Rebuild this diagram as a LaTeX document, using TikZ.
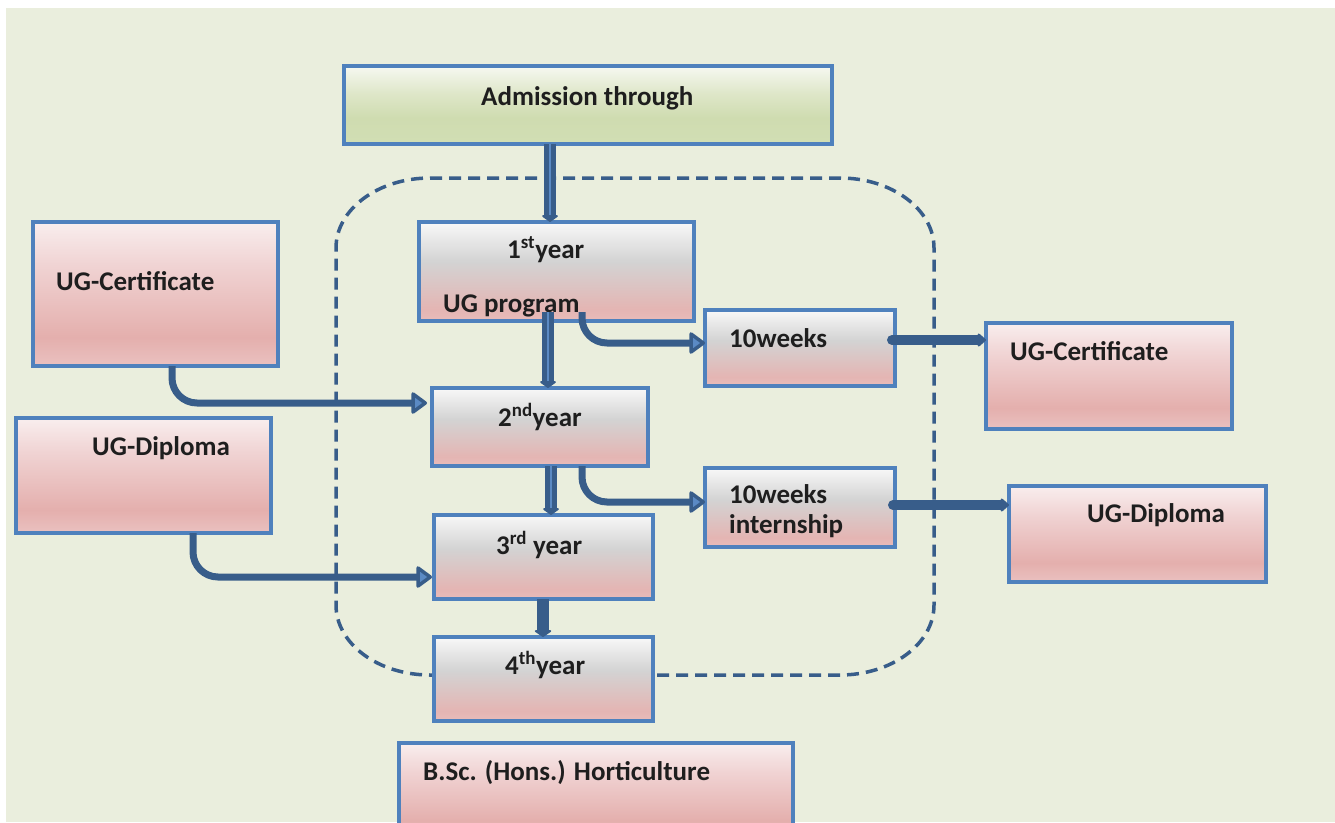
\documentclass[tikz,border=0pt]{standalone}
\usepackage{fontspec}
\setmainfont{Carlito}
\usetikzlibrary{arrows.meta}
\definecolor{bgc}{HTML}{EAEEDD}
\definecolor{bordblue}{HTML}{4F81BD}
\definecolor{arrdark}{HTML}{385D8A}
\definecolor{arrlight}{HTML}{5B8AC4}
\definecolor{txtc}{HTML}{1E1E1E}
\definecolor{pkB}{HTML}{EAC1C0}
\definecolor{pkD}{HTML}{E4AFAD}
\definecolor{pkM}{HTML}{F0D3D3}
\definecolor{pkT}{HTML}{F9EEEE}
\definecolor{yrB}{HTML}{E8BCBA}
\definecolor{yrD}{HTML}{E4B5B3}
\definecolor{yrM}{HTML}{D3D3D3}
\definecolor{yrT}{HTML}{F8F8F8}
\definecolor{grB}{HTML}{D1DEB4}
\definecolor{grD}{HTML}{CFDCB0}
\definecolor{grM}{HTML}{DFE7CA}
\definecolor{grT}{HTML}{F6F8F1}
\pgfdeclareverticalshading{pinkshade}{100bp}{color(0bp)=(pkB); color(25bp)=(pkB); color(35bp)=(pkD); color(60bp)=(pkM); color(75bp)=(pkT); color(100bp)=(pkT)}
\pgfdeclareverticalshading{yearshade}{100bp}{color(0bp)=(yrB); color(25bp)=(yrB); color(31bp)=(yrD); color(55bp)=(yrM); color(75bp)=(yrT); color(100bp)=(yrT)}
\pgfdeclareverticalshading{greenshade}{100bp}{color(0bp)=(grB); color(25bp)=(grB); color(42bp)=(grD); color(58bp)=(grM); color(75bp)=(grT); color(100bp)=(grT)}
\tikzset{
  box/.style={draw=bordblue, line width=4, inner sep=0, outer sep=0},
  pinkbox/.style={box, shading=pinkshade},
  yearbox/.style={box, shading=yearshade},
  greenbox/.style={box, shading=greenshade},
  txt/.style={anchor=base west, inner sep=0, text=txtc, font=\fontsize{27}{32}\selectfont\bfseries},
  dashbox/.style={draw=arrdark, line width=3.5, dash pattern=on 12 off 7},
  dbl/.style={draw=arrdark, line width=5, double=arrlight, double distance=2.5, -{Triangle[width=19,length=7,round]}},
  solidarr/.style={draw=arrdark, line width=12, -{Triangle[width=20,length=7,round]}},
  curv/.style={draw=arrdark, line width=7, rounded corners=25, -{Triangle[width=24,length=17,fill=arrlight,line width=3.5,round]}},
  thk/.style={draw=arrdark, line width=10, line cap=round, -{Triangle[width=15,length=9,round]}}
}
\begin{document}
\begin{tikzpicture}[x=1pt,y=1pt]
\path[use as bounding box] (0,0) rectangle (1335,-822);
\clip (0,0) rectangle (1335,-822);
\fill[white] (0,0) rectangle (1335,-822);
\fill[bgc] (6,-8) rectangle (1335,-822);
% dashed enclosure
\draw[dashbox] (430,-178) -- (840,-178)
  arc[start angle=90,end angle=0,x radius=94,y radius=70] -- (934,-605)
  arc[start angle=0,end angle=-90,x radius=94,y radius=70] -- (430,-675)
  arc[start angle=270,end angle=180,x radius=94,y radius=70] -- (336,-248)
  arc[start angle=180,end angle=90,x radius=94,y radius=70] -- cycle;
% boxes
\node[greenbox, minimum width=488, minimum height=78] (adm) at (588,-105) {};
\node[yearbox, minimum width=275, minimum height=99] (y1) at (556.5,-271.5) {};
\node[pinkbox, minimum width=245, minimum height=144] (ugcL) at (155.5,-294) {};
\node[yearbox, minimum width=190, minimum height=76] (w10) at (800,-348) {};
\node[pinkbox, minimum width=246, minimum height=106] (ugcR) at (1109,-376) {};
\node[yearbox, minimum width=216, minimum height=78] (y2) at (540,-427) {};
\node[pinkbox, minimum width=255, minimum height=115] (ugdL) at (143.5,-475.5) {};
\node[yearbox, minimum width=190, minimum height=79] (w10i) at (800,-507.5) {};
\node[pinkbox, minimum width=257, minimum height=96] (ugdR) at (1137.5,-534) {};
\node[yearbox, minimum width=219, minimum height=84] (y3) at (543.5,-557) {};
\node[yearbox, minimum width=219, minimum height=84] (y4) at (543.5,-679) {};
\node[pinkbox, minimum width=394, minimum height=97] (bsc) at (596,-791.5) {};
% texts
\node[txt] (tadm) at (481,-105) {Admission through};
\node[txt] (ty1a) at (507,-258) {1\textsuperscript{st}year};
\node[txt] (ty1b) at (443,-312) {UG program};
\node[txt] (tugcL) at (56,-290) {UG-Certificate};
\node[txt] (tw10) at (729,-347) {10weeks};
\node[txt] (tugcR) at (1010,-360) {UG-Certificate};
\node[txt] (ty2) at (498,-426) {2\textsuperscript{nd}year};
\node[txt] (tugdL) at (92,-455) {UG-Diploma};
\node[txt] (tw10ia) at (729,-503) {10weeks};
\node[txt] (tw10ib) at (729,-533) {internship};
\node[txt] (tugdR) at (1087,-522) {UG-Diploma};
\node[txt] (ty3) at (496,-554) {3\textsuperscript{rd} year};
\node[txt] (ty4) at (505,-674) {4\textsuperscript{th}year};
\node[txt] (tbsc) at (423,-780) {B.Sc. (Hons.) Horticulture};
% vertical arrows
\draw[dbl] ([xshift=-38]adm.south) -- ([xshift=-6.5]y1.north);
\draw[dbl] ([xshift=-8.5,yshift=9]y1.south) -- ([xshift=8]y2.north);
\draw[dbl] ([xshift=11]y2.south) -- ([xshift=7.5]y3.north);
\draw[solidarr] ([xshift=-0.5]y3.south) -- ([xshift=-0.5]y4.north);
% curved arrows
\draw[curv] ([xshift=25.5,yshift=9]y1.south) |- ([yshift=5]w10.west);
\draw[curv] ([xshift=42]y2.south) |- ([yshift=5.5]w10i.west);
\draw[curv] ([xshift=16.5]ugcL.south) |- ([xshift=-5,yshift=24]y2.west);
\draw[curv] ([xshift=49.5]ugdL.south) |- ([xshift=-2,yshift=-20]y3.west);
% horizontal arrows
\coordinate (h1) at ([xshift=-3,yshift=8]w10.east);
\draw[thk] (h1) -- (h1 -| ugcR.west);
\coordinate (h2) at ([xshift=-2,yshift=2.5]w10i.east);
\draw[thk] (h2) -- (h2 -| ugdR.west);
\end{tikzpicture}
\end{document}
